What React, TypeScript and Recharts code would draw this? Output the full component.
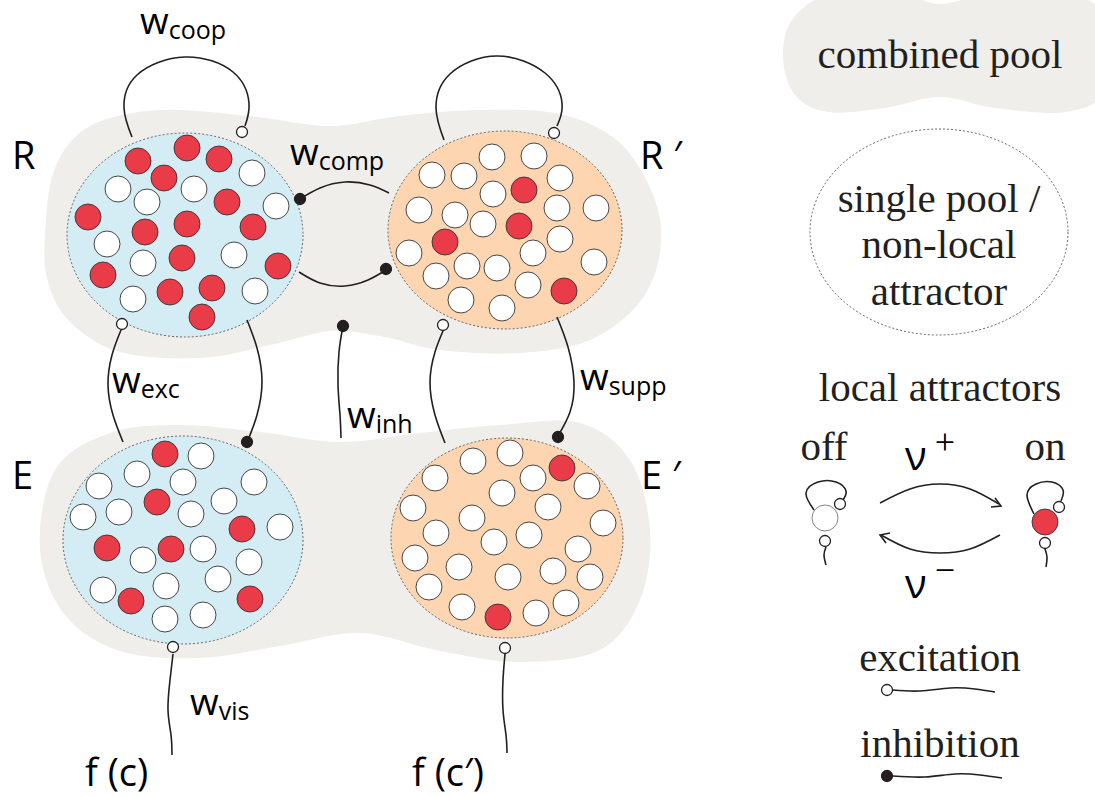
import React from "react";
import { ComposedChart, XAxis, YAxis, Scatter, Line } from "recharts";

const W = 1095;
const H = 797;
const SANS = "'Open Sans', 'Noto Sans', sans-serif";
const SERIF = "'Liberation Serif', 'DejaVu Serif', serif";
const INK = "#231f20";

type Pt = [number, number];

// grey "combined pool" shapes, outline
const topBlob: Pt[] = [
  [45, 235], [55, 168], [90, 126], [160, 110], [250, 116], [330, 126], [400, 116],
  [480, 110], [560, 114], [620, 143], [655, 200], [660, 252], [640, 302], [590, 340],
  [520, 353], [440, 350], [380, 336], [330, 331], [270, 345], [200, 358], [120, 352],
  [70, 322], [48, 282],
];
const bottomBlob: Pt[] = [
  [40, 550], [55, 470], [110, 433], [180, 425], [260, 432], [340, 442], [420, 433],
  [500, 425], [580, 423], [630, 460], [650, 530], [640, 600], [600, 650], [520, 662],
  [440, 651], [360, 633], [280, 646], [200, 658], [120, 651], [65, 615],
];
const legendBlob: Pt[] = [
  [783, 58], [792, 20], [830, -6], [900, -6], [940, 4], [990, -6], [1070, -6],
  [1105, 20], [1105, 90], [1065, 112], [995, 108], [940, 97], [885, 108], [828, 112], [795, 95],
];

// single pools: centre and radii
const pools = [
  { x: 185, y: 235, rx: 118, ry: 102, tone: "blue" },
  { x: 505, y: 230, rx: 117, ry: 99, tone: "orange" },
  { x: 183, y: 540, rx: 120, ry: 104, tone: "blue" },
  { x: 507, y: 538, rx: 116, ry: 100, tone: "orange" },
  { x: 939, y: 232, rx: 129, ry: 103, tone: "none" },
];

// neurons: x, y, on (1 = red)
const neuronsR: [number, number, number][] = [
  [138, 161, 1], [187, 148, 1], [219, 159, 1], [164, 178, 1], [227, 202, 1], [88, 217, 1],
  [145, 232, 1], [187, 224, 1], [253, 227, 1], [182, 258, 1], [103, 275, 1], [278, 266, 1],
  [170, 292, 1], [212, 288, 1], [202, 317, 1],
  [118, 189, 0], [147, 202, 0], [194, 189, 0], [252, 173, 0], [276, 206, 0], [107, 244, 0],
  [143, 263, 0], [234, 255, 0], [133, 299, 0], [255, 291, 0],
];
const neuronsRp: [number, number, number][] = [
  [492, 157, 0], [534, 156, 0], [432, 175, 0], [464, 176, 0], [560, 178, 0], [493, 194, 0],
  [419, 210, 0], [455, 215, 0], [557, 208, 0], [596, 208, 0], [483, 224, 0], [560, 239, 0],
  [409, 253, 0], [467, 266, 0], [497, 268, 0], [533, 253, 0], [436, 276, 0], [594, 262, 0],
  [528, 285, 0], [461, 300, 0], [502, 308, 0],
  [524, 190, 1], [519, 226, 1], [445, 242, 1], [564, 291, 1],
];
const neuronsE: [number, number, number][] = [
  [165, 454, 1], [157, 502, 1], [242, 529, 1], [107, 548, 1], [171, 549, 1], [131, 601, 1],
  [250, 599, 1],
  [201, 456, 0], [137, 474, 0], [99, 486, 0], [183, 482, 0], [254, 482, 0], [224, 501, 0],
  [119, 512, 0], [83, 517, 0], [191, 514, 0], [280, 527, 0], [203, 549, 0], [143, 560, 0],
  [249, 562, 0], [218, 579, 0], [103, 590, 0], [166, 586, 0], [165, 619, 0], [203, 615, 0],
];
const neuronsEp: [number, number, number][] = [
  [510, 453, 0], [473, 461, 0], [533, 478, 0], [435, 478, 0], [587, 486, 0], [502, 493, 0],
  [548, 507, 0], [413, 508, 0], [472, 518, 0], [603, 523, 0], [436, 533, 0], [529, 535, 0],
  [494, 542, 0], [578, 549, 0], [415, 558, 0], [459, 567, 0], [508, 577, 0], [553, 571, 0],
  [590, 577, 0], [429, 587, 0], [462, 607, 0], [536, 613, 0], [566, 603, 0],
  [562, 468, 1], [498, 617, 1],
];
const neuronsLegend: [number, number, number][] = [
  [825, 518, 2], [1045, 522, 1],
];

// connections
const wires: Pt[][] = [
  [[132, 137], [124, 108], [137, 75], [185, 57], [233, 72], [249, 103], [245, 126]],
  [[444, 140], [436, 108], [450, 74], [497, 56], [545, 73], [562, 103], [557, 126]],
  [[300, 199], [320, 188], [345, 182], [370, 185], [389, 193]],
  [[299, 272], [320, 283], [345, 286], [368, 280], [386, 270]],
  [[121, 330], [112, 355], [108, 385], [113, 415], [123, 442]],
  [[247, 320], [257, 348], [262, 382], [257, 415], [248, 440]],
  [[343, 326], [339, 352], [338, 385], [340, 415], [341, 438]],
  [[443, 331], [435, 352], [430, 382], [435, 415], [445, 443]],
  [[557, 317], [568, 347], [574, 382], [570, 412], [558, 436]],
  [[173, 654], [170, 680], [168, 710], [171, 735], [172, 755]],
  [[505, 654], [503, 680], [503, 710], [506, 735], [507, 753]],
  // legend icons
  [[814, 510], [806, 493], [818, 482], [836, 482], [846, 491], [843, 500]],
  [[826, 547], [824, 555], [826, 565]],
  [[1034, 514], [1027, 495], [1036, 484], [1052, 482], [1063, 490], [1061, 501]],
  [[1045, 549], [1047, 557], [1046, 567]],
  [[880, 503], [910, 489], [940, 484], [970, 489], [999, 504]],
  [[1000, 535], [970, 549], [940, 553], [910, 549], [881, 535]],
  [[893, 690], [920, 691], [950, 688], [975, 689], [995, 692]],
  [[893, 776], [925, 777], [955, 774], [980, 775], [1002, 778]],
];
const arrowHeads: Pt[][] = [
  [[995, 498], [1001, 506], [991, 507]],
  [[886, 543], [880, 535], [890, 533]],
];

const openTerminals: Pt[] = [
  [242, 132], [554, 133], [122, 324], [443, 325], [173, 647], [505, 648],
  [840, 504], [825, 541], [1059, 507], [1045, 543], [887, 690],
];
const filledTerminals: Pt[] = [
  [300, 199], [386, 269], [247, 442], [343, 326], [558, 437], [887, 776],
];

const sansLabels = [
  { x: 12, y: 169, text: "R" },
  { x: 640, y: 169, text: "R ′" },
  { x: 12, y: 489, text: "E" },
  { x: 641, y: 489, text: "E ′" },
  { x: 85, y: 786, text: "f (c)" },
  { x: 412, y: 786, text: "f (c′)" },
];
const weightLabels = [
  { x: 140, y: 34, sub: "coop" },
  { x: 290, y: 165, sub: "comp" },
  { x: 112, y: 393, sub: "exc" },
  { x: 347, y: 428, sub: "inh" },
  { x: 580, y: 390, sub: "supp" },
  { x: 190, y: 715, sub: "vis" },
];
const serifLabels = [
  { x: 940, y: 68, text: "combined pool" },
  { x: 939, y: 212, text: "single pool /" },
  { x: 939, y: 258, text: "non-local" },
  { x: 939, y: 305, text: "attractor" },
  { x: 940, y: 401, text: "local attractors" },
  { x: 824, y: 460, text: "off" },
  { x: 1045, y: 460, text: "on" },
  { x: 940, y: 671, text: "excitation" },
  { x: 940, y: 757, text: "inhibition" },
];
const rateLabels = [
  { x: 905, y: 470, sup: "+" },
  { x: 905, y: 598, sup: "−" },
];

const toXY = (pts: Pt[]) => pts.map(([x, y]) => ({ x, y }));

function closedPath(pts: Pt[]) {
  const n = pts.length;
  let d = `M${pts[0][0]},${pts[0][1]}`;
  for (let i = 0; i < n; i++) {
    const p0 = pts[(i - 1 + n) % n];
    const p1 = pts[i];
    const p2 = pts[(i + 1) % n];
    const p3 = pts[(i + 2) % n];
    const c1x = p1[0] + (p2[0] - p0[0]) / 6;
    const c1y = p1[1] + (p2[1] - p0[1]) / 6;
    const c2x = p2[0] - (p3[0] - p1[0]) / 6;
    const c2y = p2[1] - (p3[1] - p1[1]) / 6;
    d += `C${c1x},${c1y} ${c2x},${c2y} ${p2[0]},${p2[1]}`;
  }
  return d + "Z";
}

const blobData = [topBlob, bottomBlob, legendBlob].map((o) => ({ x: o[0][0], y: o[0][1], outline: o }));

const BlobShape = (p: any) => {
  const dx = p.cx - p.payload.x;
  const dy = p.cy - p.payload.y;
  const pts = p.payload.outline.map(([x, y]: Pt) => [x + dx, y + dy] as Pt);
  return <path d={closedPath(pts)} fill="#efeeea" />;
};

const poolFill: Record<string, string> = { blue: "#d4edf4", orange: "#fdd5b0", none: "none" };
const PoolShape = (p: any) => (
  <ellipse
    cx={p.cx}
    cy={p.cy}
    rx={p.payload.rx}
    ry={p.payload.ry}
    fill={poolFill[p.payload.tone]}
    stroke="#555"
    strokeWidth={0.9}
    strokeDasharray="2 2"
  />
);

const NeuronShape = (p: any) => {
  const s = p.payload.on;
  return (
    <circle
      cx={p.cx}
      cy={p.cy}
      r={13}
      fill={s === 1 ? "#e93b48" : "#fff"}
      stroke={s === 2 ? "#777" : "#333"}
      strokeWidth={0.9}
    />
  );
};

const TerminalShape = (filled: boolean) => (p: any) => (
  <circle cx={p.cx} cy={p.cy} r={5.5} fill={filled ? INK : "#fff"} stroke={INK} strokeWidth={1.3} />
);

const SansShape = (p: any) => (
  <text x={p.cx} y={p.cy} fontFamily={SANS} fontSize={38} fill="#000">
    {p.payload.text}
  </text>
);
const WeightShape = (p: any) => (
  <text x={p.cx} y={p.cy} fontFamily={SANS} fontSize={37} fill="#000">
    w<tspan fontSize={25} dy={5}>{p.payload.sub}</tspan>
  </text>
);
const SerifShape = (p: any) => (
  <text x={p.cx} y={p.cy} fontFamily={SERIF} fontSize={41} fill={INK} textAnchor="middle">
    {p.payload.text}
  </text>
);
const RateShape = (p: any) => (
  <text x={p.cx} y={p.cy} fontFamily={SANS} fontSize={40} fill="#000">
    ν<tspan fontFamily={SERIF} fontSize={36} dx={8} dy={-16}>{p.payload.sup}</tspan>
  </text>
);

const neurons = [...neuronsR, ...neuronsRp, ...neuronsE, ...neuronsEp, ...neuronsLegend].map(
  ([x, y, on]) => ({ x, y, on })
);

export default function App() {
  return (
    <div style={{ position: "absolute", left: 0, top: 0, width: W, height: H, background: "#fff" }}>
      <ComposedChart width={W} height={H} margin={{ top: 0, right: 0, bottom: 0, left: 0 }}>
        <XAxis type="number" dataKey="x" domain={[0, W]} allowDataOverflow hide />
        <YAxis type="number" dataKey="y" domain={[0, H]} allowDataOverflow reversed hide />
        <Scatter data={blobData} dataKey="y" shape={BlobShape} isAnimationActive={false} zIndex={100} />
        <Scatter data={pools} dataKey="y" shape={PoolShape} isAnimationActive={false} zIndex={200} />
        {wires.map((w, i) => (
          <Line
            key={`w${i}`}
            data={toXY(w)}
            dataKey="y"
            type="natural"
            stroke={INK}
            strokeWidth={1.6}
            dot={false}
            activeDot={false}
            isAnimationActive={false}
            zIndex={300}
          />
        ))}
        {arrowHeads.map((a, i) => (
          <Line
            key={`a${i}`}
            data={toXY(a)}
            dataKey="y"
            type="linear"
            stroke={INK}
            strokeWidth={1.6}
            dot={false}
            activeDot={false}
            isAnimationActive={false}
            zIndex={300}
          />
        ))}
        <Scatter data={neurons} dataKey="y" shape={NeuronShape} isAnimationActive={false} zIndex={400} />
        <Scatter data={toXY(openTerminals)} dataKey="y" shape={TerminalShape(false)} isAnimationActive={false} zIndex={500} />
        <Scatter data={toXY(filledTerminals)} dataKey="y" shape={TerminalShape(true)} isAnimationActive={false} zIndex={500} />
        <Scatter data={sansLabels} dataKey="y" shape={SansShape} isAnimationActive={false} zIndex={600} />
        <Scatter data={weightLabels} dataKey="y" shape={WeightShape} isAnimationActive={false} zIndex={600} />
        <Scatter data={serifLabels} dataKey="y" shape={SerifShape} isAnimationActive={false} zIndex={600} />
        <Scatter data={rateLabels} dataKey="y" shape={RateShape} isAnimationActive={false} zIndex={600} />
      </ComposedChart>
    </div>
  );
}
